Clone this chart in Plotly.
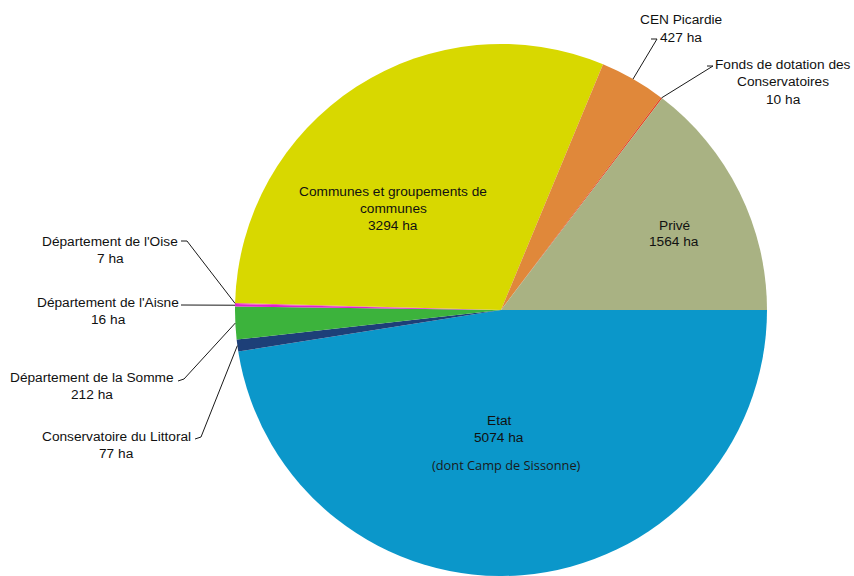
import math
import plotly.graph_objects as go

# ---- data ----
labels = ["Privé", "Fonds de dotation des Conservatoires", "CEN Picardie",
          "Communes et groupements de communes", "Département de l'Oise",
          "Département de l'Aisne", "Département de la Somme",
          "Conservatoire du Littoral", "Etat"]
values = [1564, 10, 427, 3294, 7, 16, 212, 77, 5074]
colors = ["#a9b283", "#e3401c", "#e0883a", "#d8d800", "#f050b0",
          "#e020d0", "#3cb33c", "#1d3f78", "#0b97ca"]

W, H = 854, 576
CX, CY, R = 501, 310, 266  # pie centre / radius in pixels

def px(x):
    return x / W

def py(y):
    return 1 - y / H

# drawn clockwise from 3 o'clock in reversed order (= counterclockwise in data order)
fig = go.Figure(go.Pie(
    labels=labels[::-1], values=values[::-1], sort=False, direction="clockwise",
    rotation=90, marker=dict(colors=colors[::-1], line=dict(width=0)),
    textinfo="none", hoverinfo="label+value", showlegend=False,
    domain=dict(x=[px(CX - R), px(CX + R)], y=[max(0, py(CY + R)), py(CY - R)]),
))

# angles of slice centres (counterclockwise from 3 o'clock)
total = sum(values)
mid_angle = []
acc = 0
for v in values:
    mid_angle.append((acc + v / 2) / total * 360)
    acc += v

def edge(i, frac=1.0):
    a = math.radians(mid_angle[i])
    return CX + R * frac * math.cos(a), CY - R * frac * math.sin(a)

FONT = dict(family="Liberation Sans, Arial, sans-serif", size=13.7, color="#111111")
ann = []

def text(lines, x, y0, step=17, anchor="center", font=FONT):
    for k, t in enumerate(lines):
        ann.append(dict(text=t, x=px(x), y=py(y0 + k * step), xref="paper", yref="paper",
                        xanchor=anchor, yanchor="middle", showarrow=False, font=font))

# labels (text positions)
text(["CEN Picardie", "427 ha"], 681, 20, step=18)
text(["Fonds de dotation des", "Conservatoires", "10 ha"], 783, 64, step=17.5)
text(["Communes et groupements de", "communes", "3294 ha"], 393, 192, step=16.5)
text(["Privé", "1564 ha"], 674, 225, step=17)
text(["Etat", "5074 ha"], 499, 420, step=17)
text(["(dont Camp de Sissonne)"], 506, 465,
     font=dict(family="Open Sans, Lato, sans-serif", size=12.8, color="#1a1a1a"))
text(["Département de l'Oise", "7 ha"], 110, 241)
text(["Département de l'Aisne", "16 ha"], 108, 302)
text(["Département de la Somme", "212 ha"], 92, 377)
text(["Conservatoire du Littoral", "77 ha"], 116, 436)

# leader lines: label elbow -> slice edge
leaders = [
    (2, [(651, 39), (657, 39)]),
    (1, [(707, 66), (713, 66)]),
    (4, [(181, 241), (187, 241)]),
    (5, [(181, 305)]),
    (6, [(178, 381), (184, 379)]),
    (7, [(195, 439), (201, 437)]),
]
shapes = []
for i, pts in leaders:
    ex, ey = edge(i)
    path_pts = pts + [(ex, ey)]
    d = "M " + " L ".join(f"{px(x)},{py(y)}" for x, y in path_pts)
    shapes.append(dict(type="path", path=d, xref="paper", yref="paper",
                       line=dict(color="#1a1a1a", width=1)))

fig.update_layout(width=W, height=H, margin=dict(l=0, r=0, t=0, b=0),
                  paper_bgcolor="white", plot_bgcolor="white",
                  annotations=ann, shapes=shapes)
fig.write_html("out.html", config={"displayModeBar": False},
               post_script="document.body.style.margin='0';document.body.style.overflow='hidden';")
